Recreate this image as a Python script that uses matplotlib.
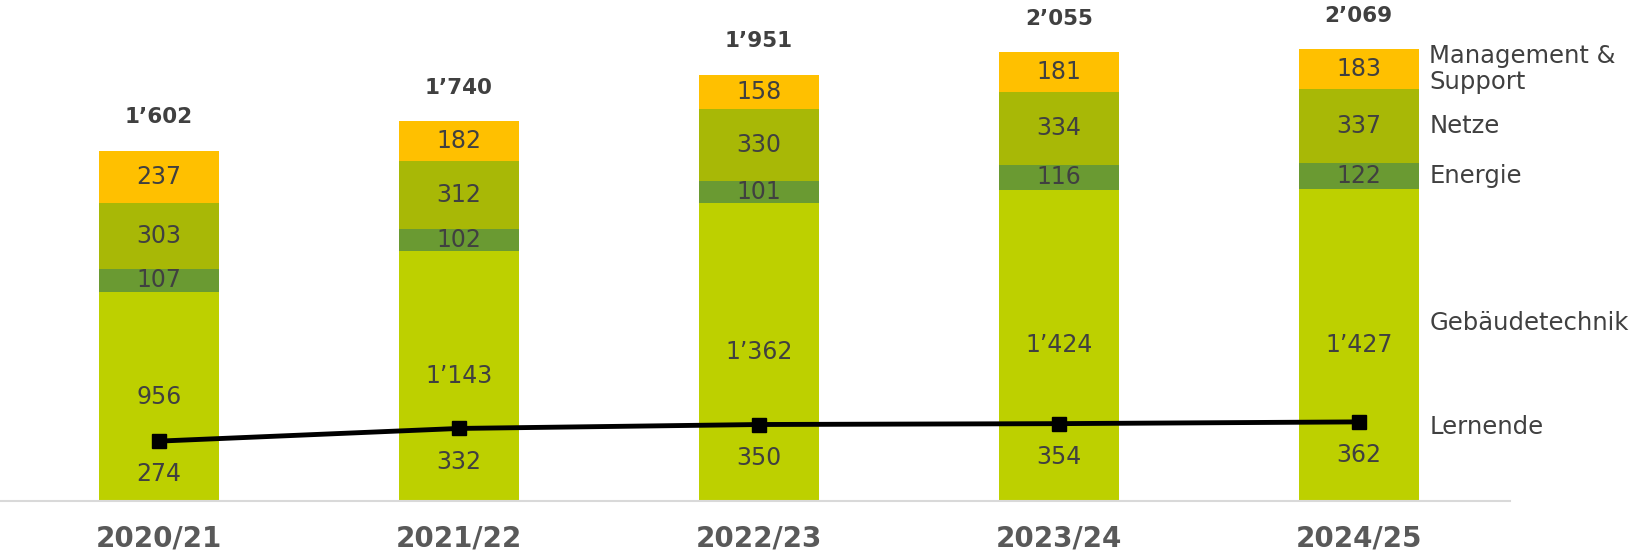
import matplotlib.pyplot as plt
import numpy as np

years = ["2020/21", "2021/22", "2022/23", "2023/24", "2024/25"]
gebaeude = [956, 1143, 1362, 1424, 1427]
energie = [107, 102, 101, 116, 122]
netze = [303, 312, 330, 334, 337]
mgmt = [237, 182, 158, 181, 183]
totals = [1602, 1740, 1951, 2055, 2069]
lernende = [274, 332, 350, 354, 362]

series_names = ["Gebäudetechnik", "Energie", "Netze", "Management &\nSupport"]
colors = ["#BDD000", "#6A9A32", "#A8B806", "#FFC000"]
txt = "#404040"


def fmt(v):
    return f"{v:,}".replace(",", "\u2019")


plt.rcParams['font.family'] = ['DejaVu Sans']

fig = plt.figure(figsize=(16.48, 5.54), dpi=100)
ax = fig.add_axes([0, 0.0957, 0.916, 0.9043])

x = np.arange(len(years))
w = 0.4
bottom = np.zeros(len(years))
stacks = [gebaeude, energie, netze, mgmt]
for vals, c in zip(stacks, colors):
    vals = np.array(vals)
    ax.bar(x, vals, w, bottom=bottom, color=c, linewidth=0)
    for xi, b, v in zip(x, bottom, vals):
        ax.text(xi, b + v / 2, fmt(v), ha='center', va='center',
                fontsize=17, color=txt)
    bottom = bottom + vals

# totals above bars
for xi, b, t in zip(x, bottom, totals):
    ax.annotate(fmt(t), (xi, b), xytext=(0, 24), textcoords='offset points',
                ha='center', va='center', fontsize=15.5, fontweight='bold',
                color=txt)

# Lernende line
ax.plot(x, lernende, color='black', lw=3.5, marker='s', markersize=10, zorder=5)
for xi, v in zip(x, lernende):
    ax.annotate(fmt(v), (xi, v), xytext=(0, -24), textcoords='offset points',
                ha='center', va='center', fontsize=17, color=txt)

# series labels right of last bar
lx = x[-1] + 0.235
b0 = 0
ys = []
for vals in stacks:
    ys.append(b0 + vals[-1] / 2)
    b0 += vals[-1]
ys[0] = gebaeude[-1] * 0.57
for name, yv in zip(series_names, ys):
    ax.text(lx, yv, name, ha='left', va='center', fontsize=17.5,
            color=txt, linespacing=1.1)
ax.annotate("Lernende", (lx, lernende[-1]), xytext=(0, -4),
            textcoords='offset points', ha='left', va='center',
            fontsize=17.5, color=txt)

ax.set_xlim(-0.53, 4.503)
ax.set_ylim(0, 2293)
ax.set_xticks(x)
ax.set_xticklabels(years, fontsize=20, fontweight='bold', color='#595959')
ax.tick_params(axis='x', length=0, pad=17)
ax.set_yticks([])
for s in ['top', 'right', 'left']:
    ax.spines[s].set_visible(False)
ax.spines['bottom'].set_color('#D9D9D9')
ax.spines['bottom'].set_linewidth(1.5)

fig.savefig("out.png", dpi=100)
